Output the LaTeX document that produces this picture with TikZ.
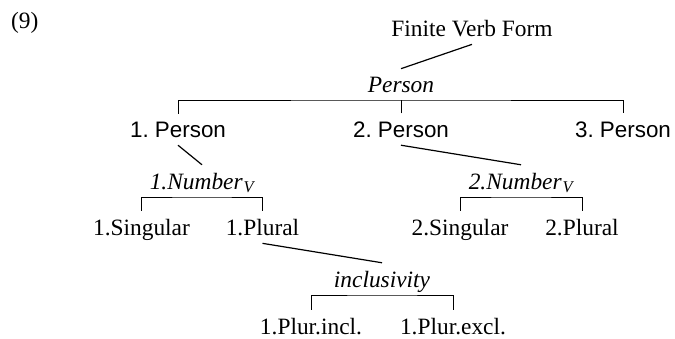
\documentclass[tikz,border=0pt]{standalone}
\usepackage{fontspec}
\setmainfont{Liberation Serif}
\setsansfont{Liberation Sans}
\frenchspacing
\begin{document}
\begin{tikzpicture}[x=1pt,y=-1pt,
  lab/.style={font=\fontsize{23.4}{28}\selectfont, anchor=base, inner sep=7.8pt},
  feat/.style={lab, font=\fontsize{23.4}{28}\selectfont\itshape, text depth=0pt},
  pers/.style={lab, font=\sffamily\fontsize{22.4}{27}\selectfont},
  link/.style={line width=1.2pt},
  brk/.style={line width=0.9pt}]
\useasboundingbox (0,0) rectangle (675,338);
\node[lab, anchor=base west, inner sep=0pt] (ex) at (11,28) {(9)};
\node[lab] (fvf) at (472,36) {Finite Verb Form};
\node[feat] (pers) at (401,92) {Person};
\node[pers] (p1) at (178,137) {1.\ Person};
\node[pers] (p2) at (401,137) {2.\ Person};
\node[pers] (p3) at (623,137) {3.\ Person};
\node[feat] (n1) at (202,189) {1.Number\kern1pt\textsubscript{V}};
\node[feat] (n2) at (521,189) {2.Number\kern1pt\textsubscript{V}};
\node[lab] (s1) at (141.5,235) {1.Singular};
\node[lab] (pl1) at (262.5,235) {1.Plural};
\node[lab] (s2) at (460,235) {2.Singular};
\node[lab] (pl2) at (582,235) {2.Plural};
\node[feat] (inc) at (382,287) {inclusivity};
\node[lab] (pi) at (311,334) {1.Plur.incl.};
\node[lab] (pe) at (453,334) {1.Plur.excl.};
\draw[link] (fvf.south) -- (pers.north);
\draw[link] (p1.south) -- (n1.north);
\draw[link] (p2.south) -- (n2.north);
\draw[link] (pl1.south) -- (inc.north);
\draw[brk] (p1.north) |- (pers.south) -| (p3.north);
\draw[brk] (p2.north) -- (p2.north |- pers.south);
\draw[brk] (s1.north) |- (n1.south) -| (pl1.north);
\draw[brk] (s2.north) |- (n2.south) -| (pl2.north);
\draw[brk] (pi.north) |- (inc.south) -| (pe.north);
\end{tikzpicture}
\end{document}
